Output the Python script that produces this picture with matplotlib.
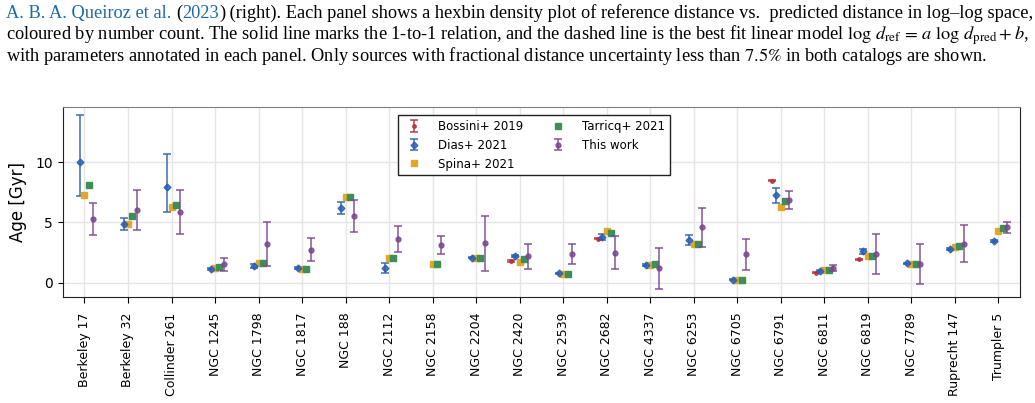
import numpy as np
import matplotlib
matplotlib.use("Agg")
import matplotlib.pyplot as plt

plt.rcParams["mathtext.fontset"] = "stix"

clusters = ["Berkeley 17", "Berkeley 32", "Collinder 261", "NGC 1245", "NGC 1798",
            "NGC 1817", "NGC 188", "NGC 2112", "NGC 2158", "NGC 2204", "NGC 2420",
            "NGC 2539", "NGC 2682", "NGC 4337", "NGC 6253", "NGC 6705", "NGC 6791",
            "NGC 6811", "NGC 6819", "NGC 7789", "Ruprecht 147", "Trumpler 5"]

# Bossini+ 2019 (only a few clusters)
bossini_idx = [10, 12, 16, 17, 18]
bossini_age = [1.82, 3.66, 8.46, 0.83, 1.98]
bossini_err = [0.07, 0.05, 0.05, 0.04, 0.04]

# Dias+ 2021 (no NGC 2158)
dias_idx = [0, 1, 2, 3, 4, 5, 6, 7, 9, 10, 11, 12, 13, 14, 15, 16, 17, 18, 19, 20, 21]
dias_age = [10.0, 4.88, 7.91, 1.18, 1.40, 1.24, 6.20, 1.21, 2.09, 2.26, 0.80,
            3.80, 1.46, 3.55, 0.28, 7.25, 0.99, 2.62, 1.63, 2.84, 3.47]
dias_lo = [2.81, 0.50, 2.04, 0.07, 0.14, 0.06, 0.50, 0.36, 0.06, 0.09, 0.05,
           0.27, 0.07, 0.38, 0.04, 0.61, 0.05, 0.20, 0.06, 0.09, 0.09]
dias_hi = [3.86, 0.49, 2.75, 0.07, 0.17, 0.06, 0.49, 0.47, 0.06, 0.09, 0.05,
           0.27, 0.07, 0.39, 0.04, 0.60, 0.05, 0.19, 0.06, 0.09, 0.09]

spina_age = [7.25, 4.90, 6.31, 1.20, 1.65, 1.13, 7.08, 2.09, 1.55, 2.09, 1.74,
             0.72, 4.27, 1.46, 3.22, 0.28, 6.31, 1.07, 2.23, 1.55, 3.00, 4.27]
tarricq_age = [8.13, 5.51, 6.47, 1.30, 1.65, 1.13, 7.08, 2.09, 1.55, 2.09, 1.96,
               0.72, 4.16, 1.55, 3.22, 0.28, 6.78, 1.10, 2.23, 1.55, 3.08, 4.57]

# This work
this_age = [5.31, 6.03, 5.87, 1.57, 3.22, 2.75, 5.54, 3.64, 3.14, 3.28, 2.23,
            2.40, 2.50, 1.24, 4.60, 2.37, 6.89, 1.27, 2.42, 1.60, 3.25, 4.60]
this_hi = [6.58, 7.69, 7.66, 2.09, 5.04, 3.74, 6.83, 4.71, 3.86, 5.56, 3.25,
           3.22, 3.91, 2.92, 6.17, 3.61, 7.63, 1.49, 4.05, 3.25, 4.77, 5.07]
this_lo = [4.00, 4.41, 4.05, 1.02, 1.38, 1.79, 4.24, 2.53, 2.40, 1.02, 1.18,
           1.55, 1.13, -0.47, 3.00, 1.10, 6.12, 1.02, 0.74, -0.08, 1.71, 4.11]

c_bos = "#b5303c"
c_dias = "#2b5fb4"
c_spina = "#e0a826"
c_tar = "#3e8f57"
c_this = "#7a4790"

fig = plt.figure(figsize=(10.35, 4.03), dpi=100)
ax = fig.add_axes([0.0606, 0.263, 0.925, 0.4722])

x = np.arange(len(clusters))
dx = 0.1
ek = dict(capsize=3, elinewidth=1.2, capthick=1.2, linestyle="none", alpha=0.85)

bi = np.array(bossini_idx)
h_bos = ax.errorbar(bi - 2 * dx, bossini_age, yerr=bossini_err, fmt=".", color=c_bos,
                    markersize=5, label="Bossini+ 2019", **ek)
di = np.array(dias_idx)
h_dias = ax.errorbar(di - dx, dias_age, yerr=[dias_lo, dias_hi], fmt="D", color=c_dias,
                     markersize=3.5, label="Dias+ 2021", **ek)
h_spina, = ax.plot(x, spina_age, "s", color=c_spina, markersize=4.5,
                   label="Spina+ 2021", linestyle="none")
h_tar, = ax.plot(x + dx, tarricq_age, "s", color=c_tar, markersize=4.5,
                 label="Tarricq+ 2021", linestyle="none")
this_age = np.array(this_age)
h_this = ax.errorbar(x + 2 * dx, this_age,
                     yerr=[this_age - np.array(this_lo), np.array(this_hi) - this_age],
                     fmt="o", color=c_this, markersize=3.5, label="This work", **ek)

ax.set_xlim(-0.5, 21.5)
ax.set_ylim(-1.16, 14.57)
ax.set_yticks([0, 5, 10])
ax.set_xticks(x)
ax.set_xticklabels(clusters, rotation=90, fontsize=9)
ax.tick_params(axis="x", length=4, pad=7)
ax.tick_params(axis="y", labelsize=10)
ax.set_ylabel("Age [Gyr]", fontsize=12, labelpad=6)
ax.grid(True, color="#e5e5e5", linewidth=1)
ax.set_axisbelow(True)
for s in ax.spines.values():
    s.set_color("#222222")
ax.spines["top"].set_color("#808080")

handles = [h_bos, h_dias, h_spina, h_tar, h_this]
leg = ax.legend(handles, [h.get_label() for h in handles], ncol=2,
                loc="upper center", bbox_to_anchor=(0.492, 0.956),
                borderaxespad=0, fontsize=8.5, fancybox=False, framealpha=1,
                edgecolor="#222222", columnspacing=2.0, handletextpad=1.0)
leg.get_frame().set_linewidth(1.0)

# caption from the paper page above the figure
cap_fs = 13.2
serif = "Liberation Serif"
link = "#1f6aa5"
y1 = 1 - 18 / 403
pieces = [("A. B. A. Queiroz et al. ", link), ("(", "black"), ("2023", link),
          (")", "black"),
          (" (right). Each panel shows a hexbin density plot of reference distance vs.  predicted distance in log\u2013log space,", "black")]
xpos = 0.006
fig.canvas.draw()
for txt, col in pieces:
    t = fig.text(xpos, y1, txt, color=col, fontsize=cap_fs, family=serif, va="baseline")
    fig.canvas.draw()
    xpos = t.get_window_extent().x1 / fig.bbox.width
fig.text(0.006, 1 - 39.5 / 403,
         r"coloured by number count. The solid line marks the 1-to-1 relation, and the dashed line is the best fit linear model $\log\, d_{\rm ref}\, =\, a\ \log\, d_{\rm pred} + b$,",
         fontsize=cap_fs, family=serif, va="baseline")
fig.text(0.006, 1 - 61 / 403,
         r"with parameters annotated in each panel. Only sources with fractional distance uncertainty less than $7.5\%$ in both catalogs are shown.",
         fontsize=cap_fs, family=serif, va="baseline")

fig.savefig("out.png", dpi=100)
